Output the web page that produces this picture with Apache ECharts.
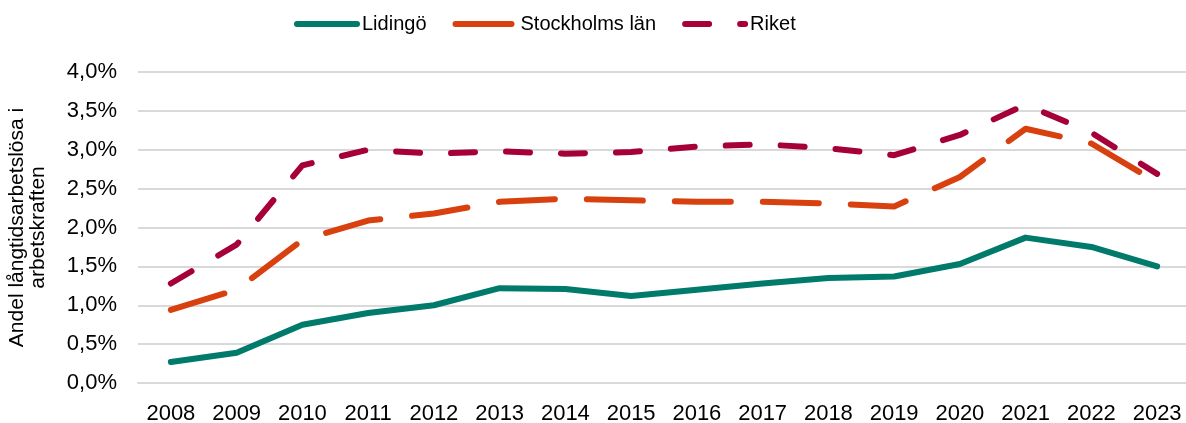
<!DOCTYPE html>
<html>
<head>
<meta charset="utf-8">
<script src="https://cdn.jsdelivr.net/npm/echarts@6/dist/echarts.min.js"></script>
<style>
  html, body { margin: 0; padding: 0; background: #fff; }
  #chart { width: 1186px; height: 423px; }
</style>
</head>
<body>
<div id="chart"></div>
<script>
var years = ['2008', '2009', '2010', '2011', '2012', '2013', '2014', '2015',
  '2016', '2017', '2018', '2019', '2020', '2021', '2022', '2023'];

// andel i procent
var lidingo = [0.27, 0.39, 0.75, 0.90, 1.00, 1.22, 1.21, 1.12, 1.20, 1.28, 1.35, 1.37, 1.53, 1.87, 1.75, 1.50];
var stockholm = [0.94, 1.20, 1.84, 2.09, 2.18, 2.33, 2.37, 2.35, 2.33, 2.33, 2.31, 2.27, 2.65, 3.27, 3.08, 2.58];
var riket = [1.28, 1.78, 2.80, 3.00, 2.95, 2.98, 2.95, 2.97, 3.04, 3.07, 3.02, 2.93, 3.19, 3.58, 3.22, 2.69];

var font = 'Liberation Sans, Arial, sans-serif';

function pct(v) {
  return v.toFixed(1).replace('.', ',') + '%';
}

function makeSeries(name, data, color, dash) {
  return {
    name: name,
    type: 'line',
    data: data,
    showSymbol: false,
    symbol: 'none',
    color: color,
    lineStyle: {
      color: color,
      width: 6,
      type: dash || 'solid',
      cap: 'round',
      join: 'round'
    }
  };
}

var chart = echarts.init(document.getElementById('chart'));
chart.setOption({
  animation: false,
  textStyle: { fontFamily: font },
  legend: {
    top: 14,
    left: 294,
    padding: 0,
    itemWidth: 60,
    itemHeight: 14,
    itemGap: 26,
    lineStyle: { width: 6, cap: 'round' },
    itemStyle: { opacity: 0 },
    textStyle: { fontSize: 20, color: '#000', fontFamily: font },
    data: ['Lidingö', 'Stockholms län', 'Riket']
  },
  grid: {
    left: 138, right: -4, top: 72, bottom: 40,
    containLabel: false,
    outerBoundsMode: 'none'
  },
  xAxis: {
    type: 'category',
    data: years,
    boundaryGap: true,
    axisLine: { lineStyle: { color: '#d9d9d9', width: 2 } },
    axisTick: { show: false },
    axisLabel: { color: '#000', fontSize: 22, margin: 20, fontFamily: font }
  },
  yAxis: {
    type: 'value',
    min: 0,
    max: 4,
    interval: 0.5,
    name: 'Andel långtidsarbetslösa i\narbetskraften',
    nameLocation: 'middle',
    nameGap: 89,
    nameRotate: 90,
    nameTextStyle: { fontSize: 21, color: '#000', fontFamily: font, lineHeight: 21 },
    axisLine: { show: false },
    axisTick: { show: false },
    axisLabel: { color: '#000', fontSize: 22, margin: 21, formatter: pct, fontFamily: font },
    splitLine: { lineStyle: { color: '#d9d9d9', width: 2 } }
  },
  series: [
    makeSeries('Lidingö', lidingo, '#007a6a'),
    makeSeries('Stockholms län', stockholm, '#d8410f', [56, 32]),
    makeSeries('Riket', riket, '#a6003b', [24, 31])
  ]
});
</script>
</body>
</html>
